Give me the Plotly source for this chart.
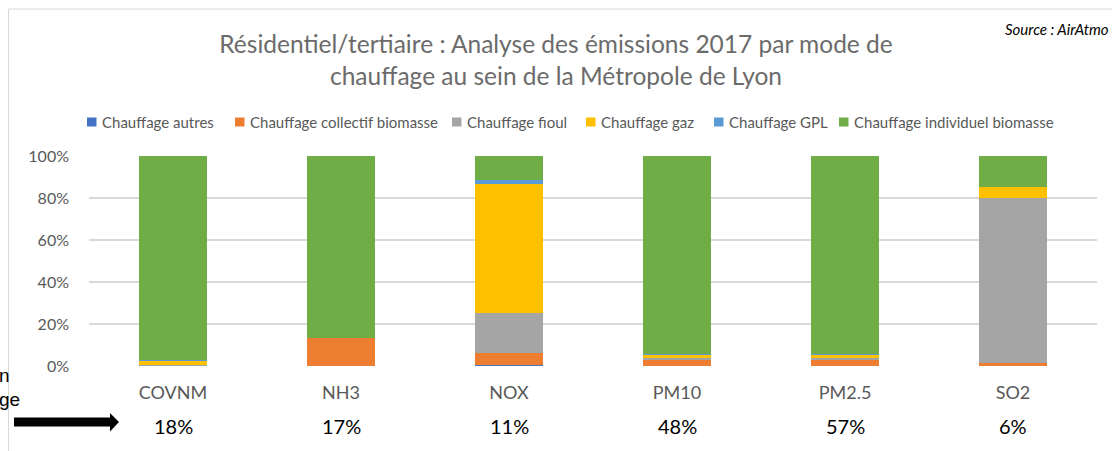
import plotly.graph_objects as go

categories = ["COVNM", "NH3", "NOX", "PM10", "PM2.5", "SO2"]
share_labels = ["18%", "17%", "11%", "48%", "57%", "6%"]

series_names = ["Chauffage autres", "Chauffage collectif biomasse", "Chauffage fioul",
                "Chauffage gaz", "Chauffage GPL", "Chauffage individuel biomasse"]
series_colors = ["#4472C4", "#ED7D31", "#A5A5A5", "#FFC000", "#5B9BD5", "#70AD47"]

autres     = [0.2, 0.0, 0.4, 0.2, 0.2, 0.1]
collectif  = [0.1, 13.3, 5.9, 3.0, 3.0, 1.5]
fioul      = [0.2, 0.0, 18.9, 0.6, 0.6, 78.5]
gaz        = [2.1, 0.0, 61.6, 1.6, 1.6, 5.1]
gpl        = [0.1, 0.0, 1.9, 0.3, 0.3, 0.0]
individuel = [97.3, 86.7, 11.3, 94.3, 94.3, 14.8]
series_values = [autres, collectif, fioul, gaz, gpl, individuel]

W, H = 1112, 451
L, R, T, B = 89, 1097, 156, 366  # plot area pixels


def px(x):
    return (x - L) / (R - L)


def py(y):
    return (B - y) / (B - T)


FONT = "Lato"
GRAY = "#595959"

fig = go.Figure()
for name, color, vals in zip(series_names, series_colors, series_values):
    fig.add_trace(go.Bar(x=categories, y=[v / 100 for v in vals], name=name,
                         marker=dict(color=color, line=dict(width=0)),
                         showlegend=False))

fig.update_layout(
    width=W, height=H,
    margin=dict(l=L, r=W - R, t=T, b=H - B, pad=0),
    barmode="stack", bargap=0.595,
    plot_bgcolor="white", paper_bgcolor="white",
    font=dict(family=FONT, color=GRAY),
    title=dict(text="Résidentiel/tertiaire : Analyse des émissions 2017 par mode de<br>chauffage au sein de la Métropole de Lyon",
               x=0.5, xref="container", xanchor="center",
               y=1 - 53 / H, yref="container", yanchor="middle",
               font=dict(family=FONT, size=24.5, color="#6b6b6b")),
    xaxis=dict(showgrid=False, showline=False, zeroline=False,
               tickfont=dict(size=18, color=GRAY), ticks="", ticklabelstandoff=14),
    yaxis=dict(range=[0, 1], tickvals=[0, 0.2, 0.4, 0.6, 0.8, 1.0], tickformat=".0%",
               showgrid=True, gridcolor="#d9d9d9", gridwidth=1.5, zeroline=False,
               showline=False, ticks="", ticklabelstandoff=19,
               tickfont=dict(size=16, color=GRAY)),
)

# manual legend
legend_sq_x = [87, 235, 452, 586, 714, 839]
for name, color, sx in zip(series_names, series_colors, legend_sq_x):
    fig.add_shape(type="rect", xref="paper", yref="paper",
                  x0=px(sx), x1=px(sx + 9.5), y0=py(126.5), y1=py(117.5),
                  fillcolor=color, line=dict(width=0))
    fig.add_annotation(text=name, xref="paper", yref="paper", x=px(sx + 13), y=py(122),
                       xanchor="left", yanchor="middle", showarrow=False,
                       font=dict(family=FONT, size=15, color=GRAY))

# share labels below categories
for cat, lab in zip(categories, share_labels):
    fig.add_annotation(text=lab, x=cat, xref="x", yref="paper", y=py(426),
                       xanchor="center", yanchor="middle", showarrow=False,
                       font=dict(family=FONT, size=20, color="black"))

# source
fig.add_annotation(text="Source : AirAtmo", xref="paper", yref="paper", x=px(1003), y=py(29),
                   xanchor="left", yanchor="middle", showarrow=False,
                   font=dict(family=FONT, size=15, color="black", style="italic"))

# cut-off text at left
fig.add_annotation(text="n", xref="paper", yref="paper", x=px(11.5), y=py(375),
                   xanchor="right", yanchor="middle", showarrow=False,
                   font=dict(family="Liberation Sans", size=19, color="black"))
fig.add_annotation(text="ge", xref="paper", yref="paper", x=px(22), y=py(399),
                   xanchor="right", yanchor="middle", showarrow=False,
                   font=dict(family="Liberation Sans", size=19, color="black"))

# arrow
pts = [(14, 417.5), (110, 417.5), (110, 413), (119, 422), (110, 431.5), (110, 426.5), (14, 426.5)]
path = "M" + " L".join(f"{px(x):.5f},{py(y):.5f}" for x, y in pts) + " Z"
fig.add_shape(type="path", xref="paper", yref="paper", path=path,
              fillcolor="black", line=dict(width=0))

# chart frame (left and top)
fig.add_shape(type="line", xref="paper", yref="paper", x0=px(8.5), x1=px(8.5), y0=py(9), y1=py(452),
              line=dict(color="#d9d9d9", width=1))
fig.add_shape(type="line", xref="paper", yref="paper", x0=px(8.5), x1=px(1113), y0=py(9), y1=py(9),
              line=dict(color="#d9d9d9", width=1))

fig.write_html("out.html", config={"displayModeBar": False},
               post_script="document.body.style.margin='0';document.body.style.overflow='hidden';")
